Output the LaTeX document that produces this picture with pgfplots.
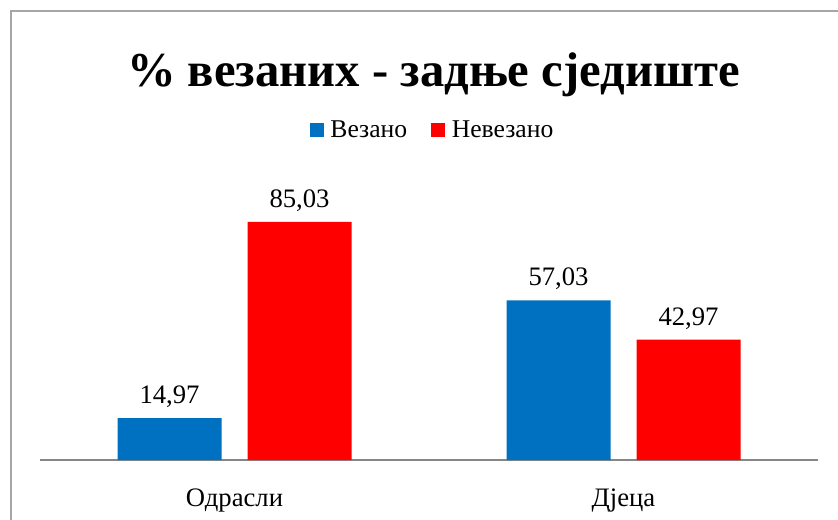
\documentclass[border=0pt]{standalone}
\usepackage{fontspec}
\setmainfont{Liberation Serif}
\usepackage{pgfplots}
\pgfplotsset{compat=1.18}
\definecolor{xblue}{HTML}{0070C0}
\definecolor{xred}{HTML}{FF0000}
\definecolor{framegray}{HTML}{A6A6A6}
\definecolor{axisgray}{HTML}{868686}
\begin{document}
\begin{tikzpicture}
\path[use as bounding box] (0,0) rectangle (628.5pt,-389.25pt);
\draw[framegray, line width=1.5pt] (7.9pt,-395pt) -- (7.9pt,-8.25pt) -- (635pt,-8.25pt);
\node[anchor=base, font=\fontsize{36.5}{40}\selectfont\bfseries] at (325pt,-64.5pt) {\% везаних - задње сједиште};
\begin{axis}[
  at={(30pt,-345pt)}, anchor=south west,
  scale only axis, width=583.5pt, height=189pt,
  clip=false,
  ymin=0, ymax=90,
  xmin=-0.5, xmax=1.5,
  axis y line=none,
  axis x line*=bottom,
  x axis line style={draw=axisgray, line width=1.1pt},
  xtick={0,1}, xticklabels={Одрасли, Дјеца},
  major tick length=0pt,
  xticklabel style={anchor=base, yshift=-34.5pt, font=\fontsize{20}{24}\selectfont},
  /pgf/number format/assume math mode=true,
  /pgf/number format/.cd, use comma, fixed, fixed zerofill, precision=2,
  /pgfplots/.cd,
  ybar, bar width=78pt,
  nodes near coords,
  every node near coord/.append style={anchor=base, yshift=11pt, font=\fontsize{20}{24}\selectfont, text=black},
  legend style={at={(0.505,1.31)}, anchor=center, draw=none, fill=none,
    font=\fontsize{19.2}{22}\selectfont, legend columns=2,
    /tikz/every even column/.append style={column sep=16pt}},
  legend image code/.code={\fill[#1, draw=none] (0pt,-5.25pt) rectangle (10.5pt,5.25pt);\path (13.5pt,0pt);},
]
\addplot[fill=xblue, draw=none, bar shift=-48.75pt] coordinates {(0,14.97) (1,57.03)};
\addplot[fill=xred, draw=none, bar shift=48.75pt] coordinates {(0,85.03) (1,42.97)};
\legend{Везано, Невезано}
\end{axis}
\end{tikzpicture}
\end{document}
